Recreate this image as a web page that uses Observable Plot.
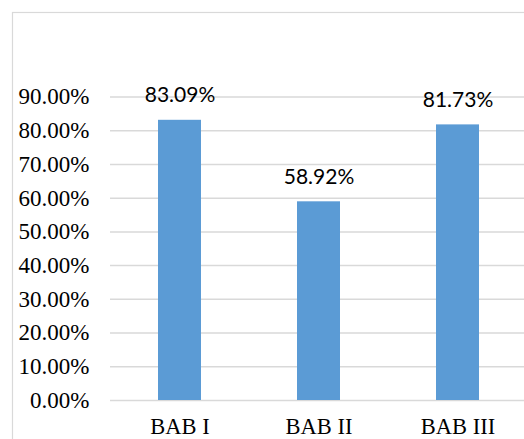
<!DOCTYPE html>
<html>
<head>
<meta charset="utf-8">
<script src="https://cdn.jsdelivr.net/npm/d3@7"></script>
<script src="https://cdn.jsdelivr.net/npm/@observablehq/plot@0.6"></script>
<style>
  html, body { margin: 0; padding: 0; background: #fff; }
  #chart { width: 524px; height: 439px; overflow: hidden; }
</style>
</head>
<body>
<div id="chart"></div>
<script>
const categories = ["BAB I", "BAB II", "BAB III"];
const values = [0.8309, 0.5892, 0.8173];
const labels = ["83.09%", "58.92%", "81.73%"];
const yTicks = [0, 0.1, 0.2, 0.3, 0.4, 0.5, 0.6, 0.7, 0.8, 0.9];

const data = categories.map((c, i) => ({cat: c, value: values[i], label: labels[i]}));

const chart = Plot.plot({
  width: 524,
  height: 439,
  marginTop: 96.5,
  marginBottom: 39,
  marginLeft: 110,
  marginRight: 0,
  style: {background: "#fff", overflow: "visible", fontFamily: "'Liberation Serif', 'Times New Roman', serif"},
  x: {domain: categories, range: [110, 527], paddingInner: 0.69, paddingOuter: 0.345, label: null},
  y: {domain: [0, 0.9], label: null},
  marks: [
    Plot.ruleY(yTicks, {stroke: "#d9d9d9", strokeWidth: 1.5}),
    Plot.barY(data, {x: "cat", y: "value", fill: "#5b9bd5"}),
    Plot.text(data, {x: "cat", y: "value", text: "label", lineAnchor: "bottom", dy: -18,
      fontSize: 21, fill: "#000", fontFamily: "Lato, 'Open Sans', sans-serif"}),
    Plot.axisY(yTicks, {tickSize: 0, tickPadding: 21, tickFormat: d => (d * 100).toFixed(2) + "%",
      fontSize: 23, fill: "#000", label: null}),
    Plot.axisX({tickSize: 0, tickPadding: 18, fontSize: 22.5, fill: "#000", label: null})
  ]
});

d3.select(chart).append("rect")
  .attr("x", 12.5).attr("y", 12.5)
  .attr("width", 540).attr("height", 460)
  .attr("fill", "none").attr("stroke", "#d9d9d9").attr("stroke-width", 1.2);

document.getElementById("chart").appendChild(chart);
</script>
</body>
</html>
